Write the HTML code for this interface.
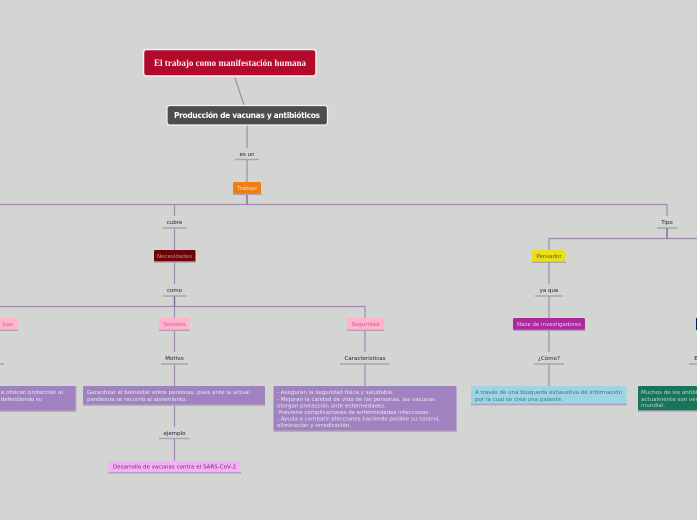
<!DOCTYPE html>
<html lang="es">
<head>
<meta charset="utf-8">
<title>El trabajo como manifestación humana</title>
<style>
html,body{margin:0;padding:0;width:697px;height:520px;overflow:hidden;background:#d3d5d2}
svg{display:block}
text{font-family:"DejaVu Sans","Liberation Sans",sans-serif;font-size:5.5px;text-anchor:middle;fill:#333;stroke:currentColor;stroke-width:0}
.s text{text-anchor:start;fill:#eee6f4}
.c{stroke:#a08bae;stroke-width:1.200;fill:none}
.u{stroke:#aea0b6;stroke-width:1.400;fill:none}
.b{paint-order:stroke;stroke-width:.15px}
</style>
</head>
<body>
<svg width="697" height="520" viewBox="0 0 697 520" xmlns="http://www.w3.org/2000/svg">
<rect width="697" height="520" fill="#d3d5d2"/>
<!-- connectors -->
<path class="c" d="M235 78L244 105M247 125V148M247 160V182M247 194V204.500M0 204.500H667M174.500 204.500V216M174.500 228V250M174.500 262V284M174.500 296V318M0 306.500H365M365 306.500V318M365 330V352M365 364V386M174.500 330V352M174.500 364V386M174.500 405V427M174.500 439V461M667 204.500V216M667 228V238.500M549 238.500H697M549 238.500V250M549 262V284M549 296V318M549 330V352M549 364V386"/>
<path d="M247 194V204.500M174.500 296V306.500M667 228V238.500" stroke="#7d5f92" stroke-width="1.200" fill="none"/>
<!-- underlines -->
<path class="u" d="M235 159.500H259M162.500 228H186.500M163 296H186.500M161 364H188M340 364H389.500M159 438.500H190M657 228H677.500M535 296H562.500M534 364H564M0 364H4M689 364H697"/>
<!-- nodes -->
<rect x="143.500" y="49.500" width="172.500" height="26.500" rx="3" fill="#b20a2c" stroke="#f4f4f2" stroke-width="1.500"/>
<text x="230" y="66" style="font-family:'Liberation Serif',serif;font-weight:bold;font-size:9px;fill:#fbeef0" textLength="152" lengthAdjust="spacing">El trabajo como manifestación humana</text>
<rect x="167" y="105.500" width="160.500" height="19.500" rx="3" fill="#4d4d4b" stroke="#f4f4f2" stroke-width="1.200"/>
<text x="247" y="118" style="font-weight:bold;font-size:7.500px;fill:#fff" textLength="146" lengthAdjust="spacing">Producción de vacunas y antibióticos</text>
<text x="247" y="156" style="fill:#222">es un</text>
<rect x="233" y="182" width="28" height="12" rx="1.500" fill="#f07c12"/>
<path class="u" d="M233 194.300H262"/>
<text x="247" y="190.200" style="fill:#f9dcc0">Trabajo</text>
<text x="174.500" y="224" style="fill:#222">cubre</text>
<rect x="154" y="250" width="41.500" height="11.500" rx="1.500" fill="#6d0308"/>
<path class="u" d="M153.500 262H196"/>
<text x="174.500" y="258" style="fill:#c98c8c">Necesidades</text>
<text x="174.500" y="292" style="fill:#222">como</text>
<rect x="0" y="318" width="17" height="12" fill="#ffb3cd"/>
<path class="u" d="M0 330.300H18"/>
<text x="13" y="326" style="fill:#d9568f;text-anchor:end">icas</text>
<rect x="159" y="318" width="30" height="12" fill="#ffb3cd"/>
<path class="u" d="M159 330.300H190"/>
<text x="174.500" y="326" style="fill:#d9568f">Sociales</text>
<rect x="347" y="318" width="37" height="12" fill="#ffb3cd"/>
<path class="u" d="M347 330.300H384"/>
<text x="365.500" y="326" style="fill:#d9568f">Seguridad</text>
<text x="174.500" y="360" style="fill:#222">Motivo</text>
<text x="365" y="360" style="fill:#222">Características</text>
<rect x="0" y="386" width="75.500" height="24.500" rx="1" fill="#a082c0"/>
<path class="u" d="M0 411H76M75.700 386V411"/>
<rect x="83" y="386" width="182" height="18.500" rx="1" fill="#a082c0"/>
<path class="u" d="M83 405H265"/>
<rect x="273.500" y="386" width="183" height="44.500" rx="1" fill="#a082c0"/>
<path class="u" d="M273.500 431H457"/>
<g class="s">
<text x="1" y="394" textLength="62" lengthAdjust="spacing">e ofrecen protección al</text>
<text x="1" y="401" textLength="41" lengthAdjust="spacing">defendiendo su</text>
<text x="87" y="394" textLength="163" lengthAdjust="spacing">Garantizar el bienestar entre personas, pues ante la actual</text>
<text x="87" y="401" textLength="100" lengthAdjust="spacing">pandemia se recurrió al aislamiento.</text>
<text x="277" y="394" textLength="117" lengthAdjust="spacing">- Aseguran la seguridad física y saludable.</text>
<text x="277" y="401" textLength="158" lengthAdjust="spacing">- Mejoran la calidad de vida de las personas, las vacunas</text>
<text x="277" y="407.500" textLength="109" lengthAdjust="spacing">otorgan protección ante enfermedades.</text>
<text x="277" y="414" textLength="153" lengthAdjust="spacing">-Previene complicaciones de enfermedades infecciosas.</text>
<text x="277" y="420.500" textLength="163" lengthAdjust="spacing">- Ayuda a combatir afecciones haciendo posible su control,</text>
<text x="277" y="427" textLength="74" lengthAdjust="spacing">eliminación y erradicación.</text>
</g>
<text x="174.500" y="435" style="fill:#222">ejemplo</text>
<rect x="108.500" y="461" width="131.500" height="11.500" fill="#f7b0f7"/>
<path class="u" d="M108.500 472.800H241"/>
<text x="174.500" y="468.500" style="fill:#5a2a60" textLength="123" lengthAdjust="spacing">Desarrollo de vacunas contra el SARS-CoV-2</text>
<text x="667" y="224" style="fill:#222">Tipo</text>
<rect x="532" y="250" width="33.500" height="12" rx="1.500" fill="#ebdf1d"/>
<path class="u" d="M532 262.300H566"/>
<text x="549" y="258" style="fill:#5c5a10">Pensador</text>
<text x="549" y="292" style="fill:#222">ya que</text>
<rect x="513" y="318" width="72" height="12" rx="1.500" fill="#ac2a9c"/>
<path class="u" d="M513 330.300H585.500"/>
<text x="549" y="326" style="fill:#f0cdea" textLength="64" lengthAdjust="spacing">Nace de investigadores</text>
<rect x="696" y="318" width="1" height="12" fill="#0a1f70"/>
<text x="549" y="360" style="fill:#222">¿Cómo?</text>
<text x="696" y="360" style="fill:#222">E</text>
<rect x="471" y="386" width="155.500" height="18" rx="1" fill="#9dd5e4"/>
<path class="u" d="M471 404.500H627"/>
<text x="475" y="394" style="text-anchor:start;fill:#47707e" textLength="147" lengthAdjust="spacing">A través de una búsqueda exhaustiva de información</text>
<text x="475" y="401" style="text-anchor:start;fill:#47707e" textLength="88" lengthAdjust="spacing">por la cual se crea una patente.</text>
<rect x="638" y="386" width="59" height="24.500" rx="1" fill="#19755a"/>
<path class="u" d="M638 411H697"/>
<text x="641" y="394" style="text-anchor:start;fill:#b5d8cc">Muchos de los antibióticos</text>
<text x="641" y="401" style="text-anchor:start;fill:#b5d8cc">actualmente son vendidos</text>
<text x="641" y="407" style="text-anchor:start;fill:#b5d8cc">mundial.</text>
</svg>
</body>
</html>
